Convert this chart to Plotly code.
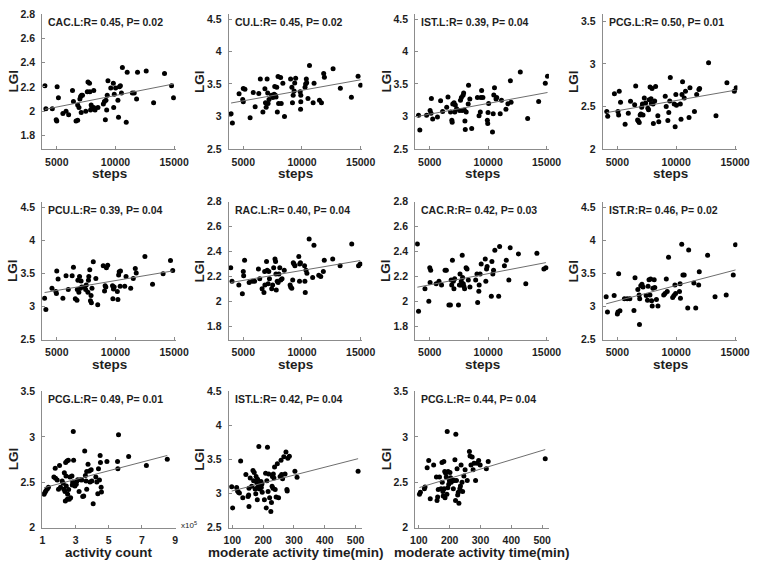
import numpy as np
import plotly.graph_objects as go

# ---------------- data ----------------
p1_steps = [3990,4070,4620,5030,5140,4950,5000,5520,5790,6010,6340,6420,6640,6780,6780,6890,7030,7110,7190,7080,6970,7470,7600,7660,7790,7820,7880,7930,7990,8150,8150,8260,8510,8970,9060,9140,9190,9250,9300,9360,9600,9820,9850,9900,10010,10210,10260,10340,10420,10510,10590,10920,11000,11440,11600,11800,11880,12620,13250,14180,14780,14950]
p1_lgi = [2.21,2.02,2.02,2.20,2.11,1.93,1.92,1.98,2.00,1.97,2.17,2.08,1.92,1.925,2.05,2.03,2.12,2.13,2.13,1.99,2.10,2.00,2.16,2.24,2.23,2.16,2.01,2.05,2.03,2.17,2.03,2.01,2.03,2.06,2.08,1.93,2.09,2.01,2.13,2.25,2.19,2.23,2.03,2.14,2.19,2.09,1.95,2.20,2.21,2.15,2.36,1.91,2.32,2.15,2.15,2.10,2.32,2.33,2.07,2.31,2.21,2.11]

p2_steps = [3960,4070,4640,4950,5000,5000,5140,5580,5850,6010,6320,6450,6670,6840,6890,6950,7030,7080,7110,7190,7410,7520,7630,7680,7740,7790,7850,7900,7960,8010,8180,8230,8370,8510,9030,9140,9190,9250,9330,9380,9460,9850,9900,9880,9900,10260,10310,10370,10400,10510,10640,10950,11030,11490,11660,11850,11910,12650,13270,14210,14780,15000]
p2_lgi = [3.04,2.90,3.35,3.26,3.225,3.43,3.42,2.98,3.37,3.15,3.355,3.575,3.07,3.425,3.21,3.14,3.575,3.36,3.20,3.26,3.325,3.29,3.34,3.46,3.325,3.30,3.45,3.07,3.615,3.20,3.60,3.20,3.51,3.00,3.575,3.45,3.21,3.325,3.39,3.515,3.59,3.38,3.325,3.11,3.225,3.45,3.50,3.575,3.52,3.275,3.785,3.21,3.51,3.25,3.21,3.66,3.605,3.735,3.435,3.295,3.62,3.48]

p3_steps = [4040,4150,4730,5030,5110,5140,5250,5660,5930,6100,6450,6560,6780,6890,6920,6970,7080,7140,7190,7300,7550,7630,7710,7770,7850,7900,7960,8010,8040,8120,8290,8320,8430,8590,9080,9220,9330,9380,9440,9550,9930,9960,9990,10040,10370,10430,10480,10540,10670,10730,11030,11140,11520,11690,11900,11960,12750,13380,14320,14890,15080]
p3_lgi = [3.02,2.79,3.02,3.09,3.05,3.275,2.96,2.99,3.24,3.075,3.14,3.30,3.07,2.94,2.91,3.19,3.21,3.07,3.175,3.12,3.09,3.25,3.29,3.09,3.325,3.36,3.10,2.93,2.80,3.07,3.19,3.48,3.27,2.815,3.29,3.01,3.07,3.29,3.40,3.29,2.94,2.89,3.06,3.20,2.76,3.04,3.33,3.44,3.27,3.29,3.04,3.25,3.11,3.195,3.55,3.22,3.685,2.97,3.23,3.51,3.62]

p4_steps = [4100,4180,4750,5050,5110,5160,5270,5660,5930,6120,6470,6560,6720,6780,6860,6940,7000,7070,7130,7180,7290,7400,7590,7650,7700,7780,7860,7890,7950,8030,8060,8170,8250,8440,8520,9070,9150,9290,9370,9450,9500,9830,9910,9970,10020,10350,10410,10490,10540,10680,10790,11090,11170,11550,11740,11930,11990,12750,13380,14310,14940,15100]
p4_lgi = [2.44,2.385,2.65,2.44,2.40,2.68,2.55,2.29,2.42,2.56,2.52,2.74,2.34,2.33,2.31,2.40,2.41,2.49,2.53,2.40,2.60,2.54,2.48,2.46,2.58,2.73,2.59,2.535,2.71,2.53,2.30,2.565,2.735,2.39,2.32,2.62,2.50,2.335,2.43,2.565,2.84,2.53,2.26,2.64,2.515,2.53,2.35,2.64,2.79,2.60,2.68,2.37,2.72,2.44,2.64,2.70,2.71,3.015,2.39,2.78,2.68,2.72]

p5_steps = [3960,4070,4590,4920,4970,5000,5110,5520,5790,5980,6310,6420,6580,6720,6750,6800,6880,6940,7020,7070,7130,7370,7460,7510,7650,7700,7730,7810,7870,7920,7950,8000,8110,8330,8490,8960,9070,9120,9180,9230,9340,9750,9780,9830,9890,10160,10210,10270,10320,10430,10400,10790,10900,11300,11520,11690,11770,12510,13160,14060,14690,14880]
p5_lgi = [3.13,2.96,3.28,3.23,3.20,3.54,3.42,3.13,3.47,3.26,3.47,3.60,3.12,3.10,3.26,3.40,3.22,3.46,3.28,3.39,3.30,3.30,3.26,3.33,3.22,3.40,3.46,3.56,3.09,3.17,3.06,3.28,3.68,3.43,3.03,3.62,3.24,3.32,3.30,3.59,3.63,3.32,3.12,3.27,3.30,3.23,3.11,3.48,3.53,3.54,3.31,3.31,3.46,3.28,3.43,3.58,3.51,3.76,3.34,3.50,3.70,3.55]

p6_steps = [3930,4040,4620,4920,5000,5030,5110,5500,5770,5960,6290,6400,6600,6760,6820,6840,6980,7040,7120,7170,7230,7420,7500,7590,7700,7750,7780,7810,7890,7970,8030,8110,8190,8300,8490,8990,9040,9130,9210,9260,9320,9400,9730,9790,9810,9870,10220,10250,10280,10340,10420,10610,10910,11020,11430,11600,11820,11900,12620,13250,14240,14820,14960]
p6_lgi = [2.27,2.16,2.13,2.06,2.24,2.205,2.33,2.15,2.16,2.16,2.26,2.18,2.10,2.07,2.24,2.13,2.32,2.25,2.14,2.24,2.18,2.10,2.13,2.27,2.34,2.32,2.22,2.09,2.16,2.15,2.22,2.27,2.17,2.18,2.25,2.13,2.115,2.105,2.17,2.31,2.30,2.285,2.36,2.16,2.30,2.31,2.285,2.16,2.07,2.25,2.225,2.50,2.19,2.45,2.21,2.20,2.24,2.33,2.34,2.285,2.46,2.285,2.30]

p7_steps = [3940,4040,4590,4920,5000,5030,5080,5550,5790,6010,6310,6420,6640,6770,6830,6880,6940,7020,7070,7130,7460,7540,7590,7650,7700,7780,7810,7870,7920,7980,8110,8190,8300,8440,8930,9040,9100,9200,9230,9310,9400,9750,9800,9860,9910,10270,10320,10400,10460,10570,10900,10980,11390,11550,11770,11880,12590,13220,14170,14770,14940]
p7_lgi = [2.46,1.92,2.10,2.00,2.27,2.15,2.25,2.14,2.16,2.13,2.25,2.25,1.97,1.97,2.17,2.13,2.33,2.16,2.10,2.18,1.97,2.13,2.22,2.13,2.16,2.37,2.19,2.14,2.12,2.10,2.27,2.26,2.17,2.115,2.17,2.22,1.99,2.08,2.13,2.22,2.30,2.34,2.16,2.26,2.28,2.04,2.32,2.22,2.25,2.41,2.04,2.44,2.285,2.33,2.17,2.43,2.38,2.14,2.385,2.26,2.27]

p8_steps = [4050,4160,4730,5000,5050,5110,5220,5600,5840,6060,6410,6500,6740,6850,6880,6900,6990,7090,7180,7450,7560,7610,7690,7770,7830,7910,7960,8020,8130,8180,8320,8450,8940,9050,9160,9240,9350,9700,9810,9890,9950,10280,10330,10360,10470,10570,10680,10980,11060,11500,11660,11910,11960,12670,13300,14250,14850,15040]
p8_lgi = [3.15,2.92,3.17,2.89,2.92,3.50,2.94,3.12,3.12,3.12,2.945,3.44,3.26,3.18,2.73,3.12,3.32,3.34,3.30,3.17,3.10,3.31,3.41,3.18,3.42,3.09,3.01,3.28,3.41,3.29,3.11,3.01,3.18,3.20,3.42,3.23,3.75,3.14,3.17,3.33,3.20,3.23,3.35,3.13,3.945,3.48,3.48,2.98,3.86,3.36,2.98,3.33,3.53,3.78,3.15,3.18,3.48,3.94]

p9_activity = [1.10,1.16,1.22,1.30,1.36,1.69,1.77,1.79,1.89,1.97,2.03,2.09,2.19,2.25,2.29,2.32,2.36,2.38,2.40,2.42,2.44,2.48,2.50,2.52,2.56,2.58,2.62,2.66,2.70,2.78,2.80,2.82,2.86,2.88,2.96,3.00,3.04,3.08,3.13,3.21,3.29,3.37,3.43,3.49,3.55,3.59,3.63,3.67,3.67,3.75,3.83,3.87,3.94,3.98,4.06,4.22,4.28,4.34,4.38,4.44,4.48,4.50,4.54,4.56,4.89,5.53,5.55,5.59,6.20,7.27,8.53]  # x10^5
p9_lgi = [2.37,2.39,2.41,2.43,2.445,2.56,2.655,2.545,2.525,2.425,2.685,2.445,2.515,2.49,2.425,2.605,2.40,2.295,2.72,2.57,2.46,2.735,2.315,2.37,2.745,2.42,2.315,2.56,2.33,2.57,2.47,2.505,3.06,2.745,2.46,2.495,2.48,2.515,2.53,2.40,2.53,2.525,2.345,2.35,2.845,2.575,2.515,2.62,2.425,2.70,2.625,2.505,2.64,2.515,2.265,2.56,2.505,2.375,2.65,2.525,2.795,2.72,2.445,2.395,2.73,2.73,2.65,3.025,2.785,2.685,2.755]

p10_modtime = [98,101,114,117,120,123,127,134,144,151,153,154,154,158,163,167,169,171,174,176,177,179,180,181,182,184,185,186,187,189,191,193,194,196,197,204,208,210,212,214,216,218,221,225,227,229,230,232,233,235,237,239,242,246,250,255,258,260,263,267,271,274,277,278,280,285,303,310,508]
p10_lgi = [3.10,2.79,3.09,3.04,3.02,3.01,3.48,2.94,3.28,2.96,2.98,3.08,2.81,3.23,3.11,3.34,3.19,3.31,3.07,3.00,3.25,3.16,3.08,2.91,3.21,3.10,3.11,3.69,3.14,3.07,3.11,3.18,3.09,3.14,3.02,2.91,3.30,2.79,3.19,3.68,3.03,3.29,2.94,2.74,2.87,3.11,3.25,3.08,3.29,3.23,3.39,3.06,2.95,3.44,2.94,3.25,3.49,3.28,3.22,3.54,3.29,3.61,3.06,3.04,3.52,3.55,3.33,3.24,3.33]

p11_modtime = [102,105,118,120,127,132,137,148,157,159,161,163,167,172,175,176,178,179,181,182,184,185,187,189,191,192,194,195,197,199,201,203,205,207,210,212,215,217,219,220,222,224,226,228,230,233,235,237,240,242,246,250,257,264,266,269,273,276,279,284,289,294,299,319,325,510]
p11_lgi = [2.37,2.39,2.43,2.45,2.66,2.74,2.32,2.69,2.56,2.30,2.34,2.42,2.56,2.43,2.72,2.50,2.40,2.35,2.73,2.43,2.62,2.33,2.60,2.56,2.37,3.06,2.44,2.62,2.48,2.52,2.61,2.55,2.50,2.53,2.52,2.43,2.52,2.75,2.30,3.03,2.52,2.65,2.36,2.39,2.27,2.43,2.46,2.69,2.50,2.40,2.57,2.64,2.52,2.84,2.79,2.69,2.78,2.64,2.71,2.52,2.71,2.74,2.69,2.65,2.73,2.76]

titles = ["CAC.L:R= 0.45, P= 0.02", "CU.L:R= 0.45, P= 0.02", "IST.L:R= 0.39, P= 0.04",
          "PCG.L:R= 0.50, P= 0.01", "PCU.L:R= 0.39, P= 0.04", "RAC.L:R= 0.40, P= 0.04",
          "CAC.R:R= 0.42, P= 0.03", "IST.R:R= 0.46, P= 0.02", "PCG.L:R= 0.49, P= 0.01",
          "IST.L:R= 0.42, P= 0.04", "PCG.L:R= 0.44, P= 0.04"]
x_labels = ["steps"] * 8 + ["activity count", "moderate activity time(min)", "moderate activity time(min)"]
y_label = "LGI"
steps_ticks = [5000, 10000, 15000]
activity_ticks = [1, 3, 5, 7, 9]
modtime_ticks = [100, 200, 300, 400, 500]
lgi_ticks_a = [1.8, 2.0, 2.2, 2.4, 2.6, 2.8]
lgi_ticks_b = [2.5, 3.0, 3.5, 4.0, 4.5]
lgi_ticks_c = [2.0, 2.5, 3.0, 3.5]

# ---------------- layout helpers ----------------
W, H = 767, 568
cols = [(38, 175), (229, 366), (420, 557), (612, 750)]
rows = [(8, 146), (200, 341), (393, 533)]

panels = [
    (p1_steps, p1_lgi, 0, 0, [3750, 15150], steps_ticks, [1.69, 2.80], lgi_ticks_a),
    (p2_steps, p2_lgi, 0, 1, [3750, 15150], steps_ticks, [2.5, 4.58], lgi_ticks_b),
    (p3_steps, p3_lgi, 0, 2, [3750, 15200], steps_ticks, [2.5, 4.58], lgi_ticks_b),
    (p4_steps, p4_lgi, 0, 3, [3750, 15200], steps_ticks, [2.0, 3.59], lgi_ticks_c),
    (p5_steps, p5_lgi, 1, 0, [3750, 15150], steps_ticks, [2.5, 4.59], lgi_ticks_b),
    (p6_steps, p6_lgi, 1, 1, [3750, 15150], steps_ticks, [1.69, 2.80], lgi_ticks_a),
    (p7_steps, p7_lgi, 1, 2, [3750, 15200], steps_ticks, [1.69, 2.80], lgi_ticks_a),
    (p8_steps, p8_lgi, 1, 3, [3750, 15200], steps_ticks, [2.5, 4.59], lgi_ticks_b),
    (p9_activity, p9_lgi, 2, 0, [0.98, 9.05], activity_ticks, [2.0, 3.51], lgi_ticks_c),
    (p10_modtime, p10_lgi, 2, 1, [88, 522], modtime_ticks, [2.5, 4.51], lgi_ticks_b),
    (p11_modtime, p11_lgi, 2, 2, [88, 522], modtime_ticks, [2.0, 3.51], lgi_ticks_c),
]

FONT = "Liberation Sans, Arial, sans-serif"
TXT = "#1e1e1e"
AX = "#8c8c8c"

def fmt(v):
    return "%g" % v

fig = go.Figure()
annotations = []
layout = {}
for i, (xs, ys, r, c, xr, xt, yr, yt) in enumerate(panels):
    k = i + 1
    xa = "x" if k == 1 else "x%d" % k
    ya = "y" if k == 1 else "y%d" % k
    xname = "xaxis" if k == 1 else "xaxis%d" % k
    yname = "yaxis" if k == 1 else "yaxis%d" % k
    x0, x1 = cols[c]
    t0, b0 = rows[r]
    xs_a = np.array(xs, dtype=float)
    ys_a = np.array(ys, dtype=float)
    n = min(len(xs_a), len(ys_a))
    xs_a, ys_a = xs_a[:n], ys_a[:n]
    fig.add_trace(go.Scatter(x=xs_a, y=ys_a, mode="markers", xaxis=xa, yaxis=ya,
                             marker=dict(color="black", size=5, line=dict(width=0)),
                             showlegend=False, hoverinfo="x+y"))
    slope, inter = np.polyfit(xs_a, ys_a, 1)
    lx = np.array([xs_a.min(), xs_a.max()])
    fig.add_trace(go.Scatter(x=lx, y=slope * lx + inter, mode="lines", xaxis=xa, yaxis=ya,
                             line=dict(color="#6e6e6e", width=1), showlegend=False,
                             hoverinfo="skip"))
    layout[xname] = dict(domain=[x0 / W, x1 / W], anchor=ya, range=xr,
                         tickvals=xt, ticktext=[fmt(v) for v in xt],
                         showgrid=False, zeroline=False, showline=True, linecolor=AX, linewidth=1,
                         ticks="inside", ticklen=3, tickcolor=AX,
                         tickfont=dict(family=FONT, size=10.5, color=TXT, weight="bold"),
                         ticklabelstandoff=3)
    layout[yname] = dict(domain=[1 - b0 / H, 1 - t0 / H], anchor=xa, range=yr,
                         tickvals=yt, ticktext=[fmt(v) for v in yt],
                         showgrid=False, zeroline=False, showline=True, linecolor=AX, linewidth=1,
                         ticks="inside", ticklen=3, tickcolor=AX,
                         tickfont=dict(family=FONT, size=10.5, color=TXT, weight="bold"),
                         ticklabelstandoff=4)
    annotations.append(dict(text="<b>%s</b>" % titles[i], xref="%s domain" % xa, yref="%s domain" % ya,
                            x=0, y=1, xanchor="left", yanchor="middle", xshift=4, yshift=-8,
                            showarrow=False, font=dict(family=FONT, size=10.5, color=TXT)))
    annotations.append(dict(text="<b>%s</b>" % y_label, xref="%s domain" % xa, yref="%s domain" % ya,
                            x=0, y=0.5, xanchor="center", yanchor="middle", xshift=-29, textangle=-90,
                            showarrow=False, font=dict(family=FONT, size=13.5, color=TXT)))
    annotations.append(dict(text="<b>%s</b>" % x_labels[i], xref="%s domain" % xa, yref="%s domain" % ya,
                            x=0.5, y=0, xanchor="center", yanchor="middle", yshift=-25,
                            showarrow=False, font=dict(family=FONT, size=13.5, color=TXT)))

annotations.append(dict(text="x10<sup>5</sup>", xref="x9 domain", yref="y9 domain", x=1, y=0,
                        xanchor="left", yanchor="middle", xshift=3, yshift=3, showarrow=False,
                        font=dict(family=FONT, size=8, color=TXT)))

fig.update_layout(width=W, height=H, margin=dict(l=0, r=0, t=0, b=0),
                  paper_bgcolor="white", plot_bgcolor="white",
                  annotations=annotations, **layout)
fig.write_html("out.html")
